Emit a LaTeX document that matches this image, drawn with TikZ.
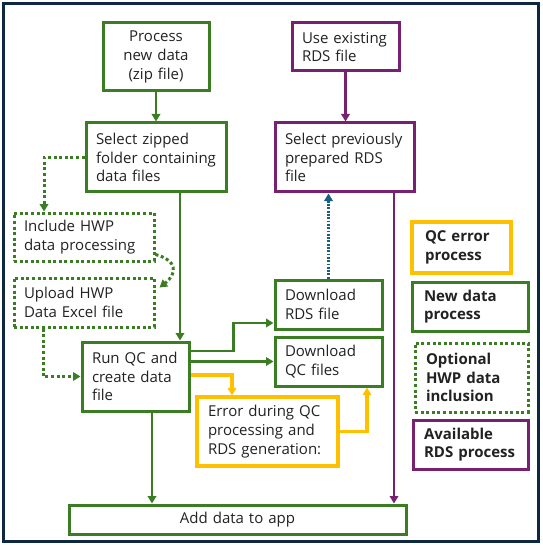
\documentclass[tikz,border=0pt]{standalone}
\usepackage{fontspec}
\setmainfont{Open Sans}
\usetikzlibrary{arrows.meta}
\definecolor{gr}{HTML}{3B7D23}
\definecolor{pu}{HTML}{782170}
\definecolor{ye}{HTML}{FFC000}
\definecolor{bl}{HTML}{156082}
\definecolor{fr}{HTML}{0E2841}
\definecolor{tx}{HTML}{222222}
\begin{document}
\begin{tikzpicture}[x=1pt,y=-1pt,
  every node/.style={font=\fontsize{15}{18.7}\selectfont, text=tx},
  box/.style={draw, line width=3pt, fill=white, align=left, inner xsep=10pt, inner ysep=0pt},
  gbox/.style={box, draw=gr},
  pbox/.style={box, draw=pu},
  ybox/.style={box, draw=ye, line width=3.3pt},
  dbox/.style={box, draw=gr, dash pattern=on 3pt off 2.6pt},
  lg/.style={font=\fontsize{15}{18.7}\selectfont\bfseries},
  tip/.style={-{Triangle[length=7.5pt,width=8.5pt]}},
  garr/.style={gr, line width=2.7pt, tip},
  parr/.style={pu, line width=2.7pt, tip},
  yarr/.style={ye, line width=3.2pt, tip},
  gdot/.style={gr, line width=3pt, dash pattern=on 3pt off 2.6pt, tip},
  barr/.style={bl, line width=2.2pt, dash pattern=on 1.8pt off 1.5pt, tip}
]
\useasboundingbox (0,0) rectangle (542,545);
\draw[fr, line width=2.8pt] (3.5,3.5) rectangle (538.5,541.5);

\node[gbox, align=center, text width=86pt, minimum height=68pt] (proc) at (156,57) {Process\\new~data\\(zip~file)};
\node[gbox, text width=120pt, minimum height=69pt] (selzip) at (156,157.5) {Select~zipped\\folder~containing\\data~files};
\node[pbox, text width=87pt, minimum height=48pt] (useRDS) at (345.5,47) {Use~existing\\RDS~file};
\node[pbox, text width=119pt, minimum height=69pt] (selRDS) at (344.5,157.5) {Select~previously\\prepared~RDS\\file};
\node[dbox, text width=120pt, minimum height=48pt] (incl) at (84,237) {Include~HWP\\data~processing};
\node[dbox, text width=120pt, minimum height=49pt] (upl) at (84,302.5) {Upload~HWP\\Data~Excel~file};
\node[gbox, text width=87pt, minimum height=69pt] (runqc) at (135.5,376.5) {Run~QC~and\\create~data\\file};
\node[gbox, text width=87pt, minimum height=49pt] (dlrds) at (328.5,304.5) {Download\\RDS~file};
\node[gbox, text width=87pt, minimum height=49pt] (dlqc) at (328.5,361.5) {Download\\QC~files};
\node[ybox, inner xsep=11pt, text width=119pt, minimum height=69pt] (err) at (267.5,431.5) {Error~during~QC\\processing~and\\RDS~generation:};
\node[gbox, align=center, text width=317pt, minimum height=29pt] (add) at (237.5,519.5) {Add data to app};

\node[ybox, lg, inner xsep=13pt, text width=73pt, minimum height=51pt] (lq) at (461.5,247.5) {QC~error\\process};
\node[gbox, lg, inner xsep=12pt, text width=92pt, minimum height=49pt] (ln) at (470,306.5) {New~data\\process};
\node[dbox, lg, inner xsep=11pt, text width=91pt, minimum height=69pt] (lo) at (471.5,377.5) {Optional\\HWP~data\\inclusion};
\node[pbox, lg, inner xsep=11pt, text width=93pt, minimum height=49pt] (la) at (470.5,444.5) {Available\\RDS~process};

\draw[garr] (proc) -- (selzip);
\draw[parr] (useRDS.south) -- (useRDS.south |- selRDS.north);
\draw[garr] ([xshift=24pt]selzip.south) -- ([xshift=24pt]selzip.south |- runqc.north);
\draw[gdot] (selzip.west) -| ([xshift=-40pt]incl.north);
\draw[gdot] ([yshift=8pt]incl.south east) .. controls +(22,6) and +(18,-14) .. ([xshift=4pt,yshift=-11pt]upl.north east);
\draw[gdot] ([xshift=-41pt]upl.south) |- (runqc.west);
\draw[garr] ([yshift=25.5pt]runqc.east) -- ++(43,0) |- ([yshift=-18.5pt]dlrds.west);
\draw[garr] (runqc.east |- dlqc.west) -- (dlqc.west);
\draw[yarr] ([yshift=1.5pt]runqc.east) -| ([xshift=-35.5pt]err.north);
\draw[yarr] (err.east) -| ([xshift=38.5pt]dlqc.south);
\draw[barr] (dlrds.north) -- (selRDS.south -| dlrds.north);
\draw[parr] ([xshift=49.5pt]selRDS.south) -- ([xshift=49.5pt]selRDS.south |- add.north);
\draw[garr] ([xshift=16.5pt]runqc.south) -- ([xshift=16.5pt]runqc.south |- add.north);
\end{tikzpicture}
\end{document}
